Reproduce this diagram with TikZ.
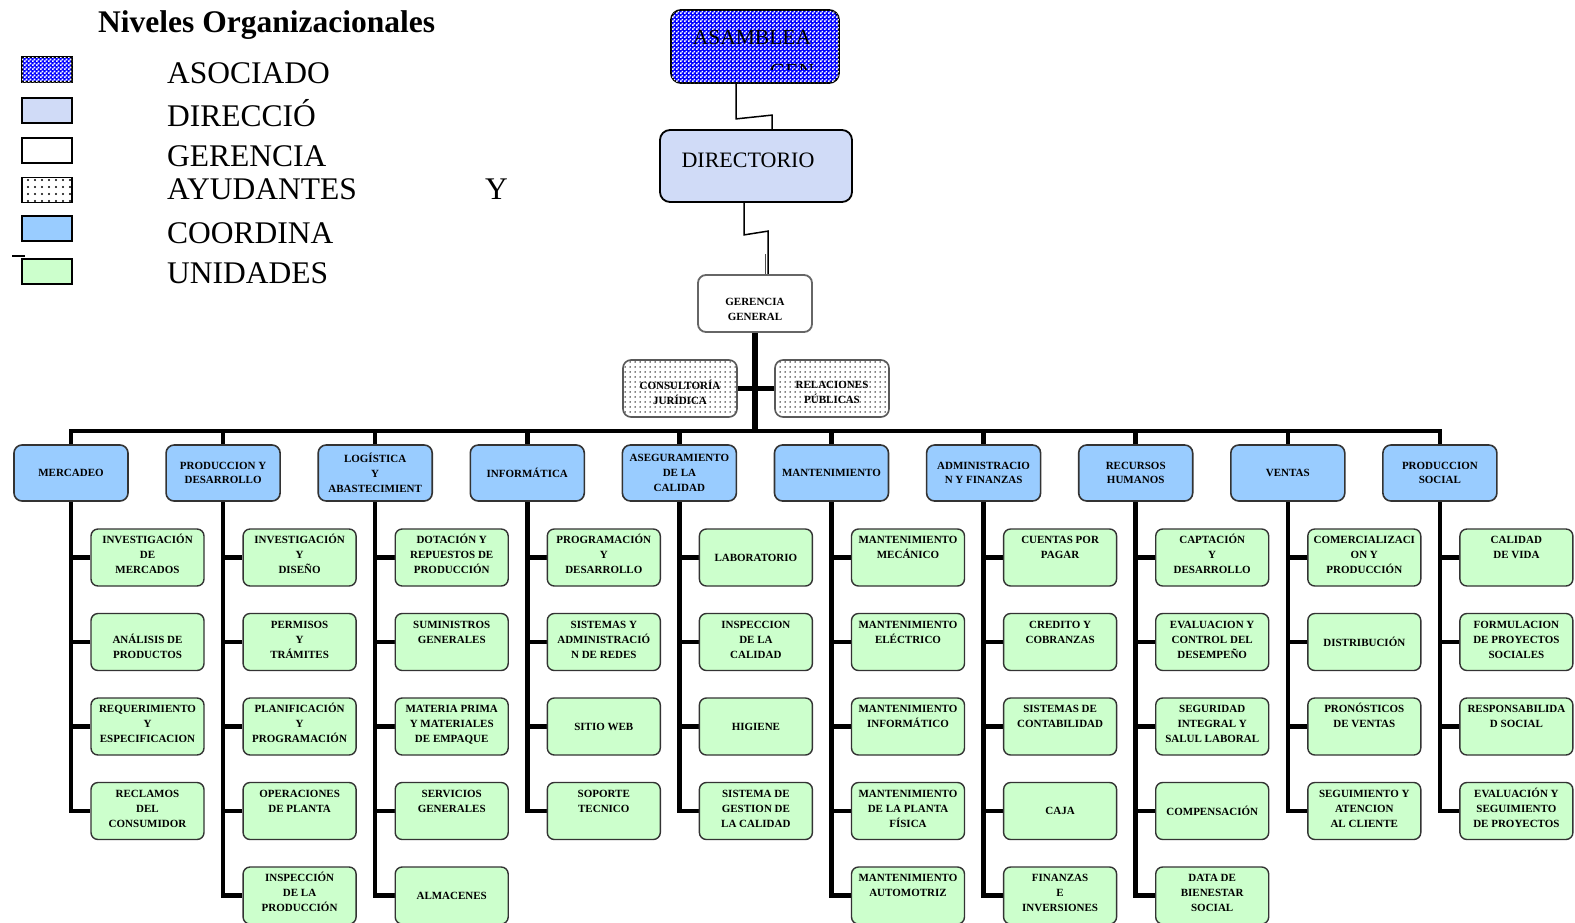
\documentclass[tikz,border=0pt]{standalone}
\usepackage{fontspec}
\setmainfont{Liberation Serif}
\usetikzlibrary{patterns,backgrounds}
\definecolor{coordblue}{HTML}{99CCFF}
\definecolor{unitgreen}{HTML}{CCFFCC}
\definecolor{dirblue}{HTML}{D0DBF7}
\definecolor{boxedge}{HTML}{333333}
\pgfdeclarepatternformonly{smalldots}{\pgfqpoint{-1pt}{-1pt}}{\pgfqpoint{1pt}{1pt}}{\pgfqpoint{5pt}{5pt}}{\pgfpathcircle{\pgfqpoint{0pt}{0pt}}{0.75pt}\pgfusepath{fill}}
\pgfdeclarepatternformonly{bigdots}{\pgfqpoint{-1.5pt}{-1.5pt}}{\pgfqpoint{1.5pt}{1.5pt}}{\pgfqpoint{7pt}{7pt}}{\pgfpathcircle{\pgfqpoint{0pt}{0pt}}{1.2pt}\pgfusepath{fill}}
\pgfdeclarepatternformonly{finechecker}{\pgfpointorigin}{\pgfqpoint{4pt}{4pt}}{\pgfqpoint{4pt}{4pt}}{\pgfpathrectangle{\pgfpointorigin}{\pgfqpoint{2pt}{2pt}}\pgfpathrectangle{\pgfqpoint{2pt}{2pt}}{\pgfqpoint{2pt}{2pt}}\pgfusepath{fill}}
\newcommand\ulines[1]{\parbox[c][51pt][t]{112pt}{\centering\rule{0pt}{11.5pt}#1}}
\tikzset{
  smallfont/.style={font=\bfseries\fontsize{11pt}{15pt}\selectfont},
  coordbox/.style={smallfont, draw=boxedge, line width=1.6pt, rounded corners=8pt, fill=coordblue,
    minimum width=114pt, minimum height=56pt, inner sep=1pt, align=center},
  unitbox/.style={smallfont, draw=boxedge, line width=1.4pt, rounded corners=7pt, fill=unitgreen,
    minimum width=113pt, minimum height=57pt, inner sep=0pt, align=center},
  helperbox/.style={draw=black!65, line width=1.6pt, rounded corners=8pt, fill=white,
    pattern=smalldots, pattern color=black, minimum width=114pt, minimum height=57pt},
  plaintext/.style={smallfont, align=center, inner sep=0pt},
  checkfill/.style={fill=blue, postaction={pattern=finechecker, pattern color=white}},
  swatch/.style={draw=black, line width=1.6pt, minimum width=50pt, minimum height=25pt, inner sep=0pt},
  legtext/.style={font=\fontsize{31.5pt}{33pt}\selectfont, anchor=base west, inner sep=0pt},
  conn/.style={line width=4.5pt, line join=miter},
  gconn/.style={line width=6pt},
  thinconn/.style={line width=1.5pt},
}
\begin{document}
\begin{tikzpicture}[x=1pt,y=-1pt]
\useasboundingbox (0,0) rectangle (1575,922);

% ---------- legend ----------
\node[font=\bfseries\fontsize{31.5pt}{33pt}\selectfont, anchor=base west, inner sep=0pt] (title) at (98,32) {Niveles Organizacionales};
\node[swatch, checkfill] (s1) at (47,69.5) {};
\node[swatch, fill=dirblue] (s2) at (47,110.5) {};
\node[swatch, fill=white] (s3) at (47,150.5) {};
\node[swatch, fill=white, pattern=bigdots, pattern color=black] (s4) at (47,190) {};
\node[swatch, fill=coordblue] (s5) at (47,228.5) {};
\node[swatch, fill=unitgreen] (s6) at (47,271.5) {};
\draw[line width=2.2pt] (12,256) -- (25,256);
\node[legtext] (l1) at (167,83) {ASOCIADO};
\node[legtext] (l2) at (167,126) {DIRECCIÓ};
\node[legtext] (l3) at (167,166) {GERENCIA};
\node[legtext] (l4) at (167,199) {AYUDANTES};
\node[legtext] (l4y) at (485,199) {Y};
\node[legtext] (l5) at (167,243) {COORDINA};
\node[legtext] (l6) at (167,283) {UNIDADES};

% ---------- top of the chart ----------
\node[draw=black, line width=1.8pt, rounded corners=10pt, checkfill,
  minimum width=168pt, minimum height=73pt] (asamblea) at (755,46.5) {};
\node[font=\fontsize{21.5pt}{23pt}\selectfont, anchor=base, inner sep=0pt] (asamtxt) at (752,44) {ASAMBLEA};
\begin{scope}
  \clip (760,63) rectangle (830,69);
  \node[font=\fontsize{21.5pt}{23pt}\selectfont, anchor=north, inner sep=0pt] (asamgen) at (792,64.5) {GEN};
\end{scope}

\node[draw=black, line width=1.8pt, rounded corners=10pt, fill=dirblue,
  minimum width=192pt, minimum height=72pt] (directorio) at (756,166) {};
\node[font=\fontsize{22pt}{24pt}\selectfont, anchor=base, inner sep=0pt] (dirtxt) at (748,167) {DIRECTORIO};

\node[draw=black!60, line width=1.8pt, rounded corners=8pt, fill=white,
  minimum width=114pt, minimum height=57pt] (ger) at (755,303.5) {};
\node[plaintext] (gertxt) at (755,309) {GERENCIA\\GENERAL};

\node[helperbox] (cons) at (680,388.5) {};
\node[plaintext] (constxt) at (680,392.5) {CONSULTORÍA\\JURÍDICA};
\node[helperbox] (rel) at (832,388.5) {};
\node[plaintext] (reltxt) at (832,392.5) {RELACIONES\\PÚBLICAS};

% ---------- coordinations ----------
\node[coordbox] (c1) at (71,473) {MERCADEO};
\node[coordbox] (c2) at (223.1,473) {\raisebox{-4pt}{\shortstack{PRODUCCION Y\\[3pt]DESARROLLO}}};
\node[coordbox] (c3) at (375.2,473) {LOGÍSTICA\\Y\\ABASTECIMIENT};
\node[coordbox] (c4) at (527.3,473) {INFORMÁTICA};
\node[coordbox] (c5) at (679.4,473) {ASEGURAMIENTO\\DE LA\\CALIDAD};
\node[coordbox] (c6) at (831.5,473) {MANTENIMIENTO};
\node[coordbox] (c7) at (983.6,473) {\raisebox{-4pt}{\shortstack{ADMINISTRACIO\\[3pt]N Y FINANZAS}}};
\node[coordbox] (c8) at (1135.7,473) {\raisebox{-4pt}{\shortstack{RECURSOS\\[3pt]HUMANOS}}};
\node[coordbox] (c9) at (1287.8,473) {VENTAS};
\node[coordbox] (c10) at (1439.9,473) {\raisebox{-4pt}{\shortstack{PRODUCCION\\[3pt]SOCIAL}}};
\coordinate (bus) at (0,431);

% ---------- units ----------
% column 1
\node[unitbox] (u1a) at (147.5,557.5) {\ulines{INVESTIGACIÓN\\DE\\MERCADOS}};
\node[unitbox] (u1b) at (147.5,642) {\ulines{\mbox{}\\ANÁLISIS DE\\PRODUCTOS}};
\node[unitbox] (u1c) at (147.5,726.5) {\ulines{REQUERIMIENTO\\Y\\ESPECIFICACION}};
\node[unitbox] (u1d) at (147.5,811) {\ulines{RECLAMOS\\DEL\\CONSUMIDOR}};
% column 2
\node[unitbox] (u2a) at (299.6,557.5) {\ulines{INVESTIGACIÓN\\Y\\DISEÑO}};
\node[unitbox] (u2b) at (299.6,642) {\ulines{PERMISOS\\Y\\TRÁMITES}};
\node[unitbox] (u2c) at (299.6,726.5) {\ulines{PLANIFICACIÓN\\Y\\PROGRAMACIÓN}};
\node[unitbox] (u2d) at (299.6,811) {\ulines{OPERACIONES\\DE PLANTA}};
\node[unitbox] (u2e) at (299.6,895.5) {\ulines{INSPECCIÓN\\DE LA\\PRODUCCIÓN}};
% column 3
\node[unitbox] (u3a) at (451.7,557.5) {\ulines{DOTACIÓN Y\\REPUESTOS DE\\PRODUCCIÓN}};
\node[unitbox] (u3b) at (451.7,642) {\ulines{SUMINISTROS\\GENERALES}};
\node[unitbox] (u3c) at (451.7,726.5) {\ulines{MATERIA PRIMA\\Y MATERIALES\\DE EMPAQUE}};
\node[unitbox] (u3d) at (451.7,811) {\ulines{SERVICIOS\\GENERALES}};
\node[unitbox] (u3e) at (451.7,895.5) {ALMACENES};
% column 4
\node[unitbox] (u4a) at (603.8,557.5) {\ulines{PROGRAMACIÓN\\Y\\DESARROLLO}};
\node[unitbox] (u4b) at (603.8,642) {\ulines{SISTEMAS Y\\ADMINISTRACIÓ\\N DE REDES}};
\node[unitbox] (u4c) at (603.8,726.5) {SITIO WEB};
\node[unitbox] (u4d) at (603.8,811) {\ulines{SOPORTE\\TECNICO}};
% column 5
\node[unitbox] (u5a) at (755.9,557.5) {LABORATORIO};
\node[unitbox] (u5b) at (755.9,642) {\ulines{INSPECCION\\DE LA\\CALIDAD}};
\node[unitbox] (u5c) at (755.9,726.5) {HIGIENE};
\node[unitbox] (u5d) at (755.9,811) {\ulines{SISTEMA DE\\GESTION DE\\LA CALIDAD}};
% column 6
\node[unitbox] (u6a) at (908,557.5) {\ulines{MANTENIMIENTO\\MECÁNICO}};
\node[unitbox] (u6b) at (908,642) {\ulines{MANTENIMIENTO\\ELÉCTRICO}};
\node[unitbox] (u6c) at (908,726.5) {\ulines{MANTENIMIENTO\\INFORMÁTICO}};
\node[unitbox] (u6d) at (908,811) {\ulines{MANTENIMIENTO\\DE LA PLANTA\\FÍSICA}};
\node[unitbox] (u6e) at (908,895.5) {\ulines{MANTENIMIENTO\\AUTOMOTRIZ}};
% column 7
\node[unitbox] (u7a) at (1060.1,557.5) {\ulines{CUENTAS POR\\PAGAR}};
\node[unitbox] (u7b) at (1060.1,642) {\ulines{CREDITO Y\\COBRANZAS}};
\node[unitbox] (u7c) at (1060.1,726.5) {\ulines{SISTEMAS DE\\CONTABILIDAD}};
\node[unitbox] (u7d) at (1060.1,811) {CAJA};
\node[unitbox] (u7e) at (1060.1,895.5) {\ulines{FINANZAS\\E\\INVERSIONES}};
% column 8
\node[unitbox] (u8a) at (1212.2,557.5) {\ulines{CAPTACIÓN\\Y\\DESARROLLO}};
\node[unitbox] (u8b) at (1212.2,642) {\ulines{EVALUACION Y\\CONTROL DEL\\DESEMPEÑO}};
\node[unitbox] (u8c) at (1212.2,726.5) {\ulines{SEGURIDAD\\INTEGRAL Y\\SALUL LABORAL}};
\node[unitbox] (u8d) at (1212.2,811) {COMPENSACIÓN};
\node[unitbox] (u8e) at (1212.2,895.5) {\ulines{DATA DE\\BIENESTAR\\SOCIAL}};
% column 9
\node[unitbox] (u9a) at (1364.3,557.5) {\ulines{COMERCIALIZACI\\ON Y\\PRODUCCIÓN}};
\node[unitbox] (u9b) at (1364.3,642) {DISTRIBUCIÓN};
\node[unitbox] (u9c) at (1364.3,726.5) {\ulines{PRONÓSTICOS\\DE VENTAS}};
\node[unitbox] (u9d) at (1364.3,811) {\ulines{SEGUIMIENTO Y\\ATENCION\\AL CLIENTE}};
% column 10
\node[unitbox] (u10a) at (1516.4,557.5) {\ulines{CALIDAD\\DE VIDA}};
\node[unitbox] (u10b) at (1516.4,642) {\ulines{FORMULACION\\DE PROYECTOS\\SOCIALES}};
\node[unitbox] (u10c) at (1516.4,726.5) {\ulines{RESPONSABILIDA\\D SOCIAL}};
\node[unitbox] (u10d) at (1516.4,811) {\ulines{EVALUACIÓN Y\\SEGUIMIENTO\\DE PROYECTOS}};

% ---------- connectors ----------
\begin{pgfonlayer}{background}
\fill[white] (0,0) rectangle (1575,922);
\draw[thinconn] ([xshift=-19pt]asamblea.south) -- ++(0,35) -- ([xshift=16pt,yshift=14pt]directorio.north) -- ([xshift=16pt]directorio.north);
\draw[thinconn] ([xshift=-12pt]directorio.south) -- ++(0,32) -- ([xshift=13pt,yshift=43pt]ger.north) -- ([xshift=13pt]ger.north);
\draw[line width=1pt, black!70] ([xshift=10pt,yshift=20pt]ger.north) -- ([xshift=10pt]ger.north);
\draw[gconn] (ger.south) -- (ger.south |- bus);
\draw[conn] (cons.east) -- (rel.west);
\draw[conn] (c1.north) -- (c1.north |- bus) -- (c10.north |- bus) -- (c10.north);
\foreach \i in {2,...,9} {\draw[conn] (c\i.north) -- (c\i.north |- bus);}
\draw[conn] (c1.south) |- (u1d.west);
\draw[conn] (c2.south) |- (u2e.west);
\draw[conn] (c3.south) |- (u3e.west);
\draw[conn] (c4.south) |- (u4d.west);
\draw[conn] (c5.south) |- (u5d.west);
\draw[conn] (c6.south) |- (u6e.west);
\draw[conn] (c7.south) |- (u7e.west);
\draw[conn] (c8.south) |- (u8e.west);
\draw[conn] (c9.south) |- (u9d.west);
\draw[conn] (c10.south) |- (u10d.west);
\foreach \c/\u in {1/1a,1/1b,1/1c,2/2a,2/2b,2/2c,2/2d,3/3a,3/3b,3/3c,3/3d,4/4a,4/4b,4/4c,
  5/5a,5/5b,5/5c,6/6a,6/6b,6/6c,6/6d,7/7a,7/7b,7/7c,7/7d,8/8a,8/8b,8/8c,8/8d,9/9a,9/9b,9/9c,
  10/10a,10/10b,10/10c}
  {\draw[conn] (u\u.west) -- (u\u.west -| c\c.south);}
\end{pgfonlayer}
\end{tikzpicture}
\end{document}
